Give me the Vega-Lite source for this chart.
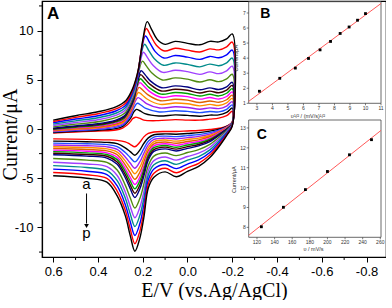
{
"$schema":"https://vega.github.io/schema/vega-lite/v6.json",
"padding":{"left":0,"top":1,"right":0,"bottom":0},
"background":"white",
"width":344,"height":256,
"view":{"stroke":"black","strokeWidth":1.2},
"config":{"axis":{"grid":false,"domainColor":"black","tickColor":"black","labelColor":"black","titleColor":"black","titleFontWeight":"normal","labelFont":"Liberation Sans","titleFont":"Liberation Serif"}},
"datasets":{"cv":[
{"c":"a","x":0.6,"y":-0.4},{"c":"a","x":0.5,"y":-0.3},{"c":"a","x":0.4,"y":-0.2},{"c":"a","x":0.32,"y":-0.1},{"c":"a","x":0.29,"y":0.1},{"c":"a","x":0.27,"y":0.4},{"c":"a","x":0.255,"y":0.75},{"c":"a","x":0.245,"y":1.05},{"c":"a","x":0.232,"y":1.2},{"c":"a","x":0.215,"y":1.1},{"c":"a","x":0.195,"y":0.9},{"c":"a","x":0.13,"y":0.85},{"c":"a","x":0.055,"y":0.95},{"c":"a","x":0,"y":0.9},{"c":"a","x":-0.055,"y":0.9},{"c":"a","x":-0.1,"y":1.0},{"c":"a","x":-0.14,"y":1.1},{"c":"a","x":-0.175,"y":1.35},{"c":"a","x":-0.2,"y":1.8},
{"c":"a","x":-0.2,"y":0.7},{"c":"a","x":-0.18,"y":0.35},{"c":"a","x":-0.15,"y":0.1},{"c":"a","x":-0.1,"y":-0.05},{"c":"a","x":-0.05,"y":-0.15},{"c":"a","x":0,"y":-0.2},{"c":"a","x":0.05,"y":-0.25},{"c":"a","x":0.1,"y":-0.25},{"c":"a","x":0.15,"y":-0.3},{"c":"a","x":0.175,"y":-0.45},{"c":"a","x":0.195,"y":-0.8},{"c":"a","x":0.213,"y":-1.35},{"c":"a","x":0.235,"y":-1.8},{"c":"a","x":0.256,"y":-1.55},{"c":"a","x":0.278,"y":-1.3},{"c":"a","x":0.314,"y":-1.15},{"c":"a","x":0.36,"y":-1.1},{"c":"a","x":0.45,"y":-1.05},{"c":"a","x":0.6,"y":-1.0},
{"c":"b","x":0.6,"y":-0.35},{"c":"b","x":0.5,"y":-0.23},{"c":"b","x":0.4,"y":-0.12},{"c":"b","x":0.32,"y":0.04},{"c":"b","x":0.289,"y":0.27},{"c":"b","x":0.268,"y":0.7},{"c":"b","x":0.252,"y":1.18},{"c":"b","x":0.241,"y":1.69},{"c":"b","x":0.228,"y":1.99},{"c":"b","x":0.211,"y":1.83},{"c":"b","x":0.19,"y":1.56},{"c":"b","x":0.128,"y":1.32},{"c":"b","x":0.055,"y":1.43},{"c":"b","x":0,"y":1.38},{"c":"b","x":-0.055,"y":1.3},{"c":"b","x":-0.1,"y":1.41},{"c":"b","x":-0.14,"y":1.43},{"c":"b","x":-0.175,"y":1.68},{"c":"b","x":-0.2,"y":2.13},
{"c":"b","x":-0.2,"y":0.68},{"c":"b","x":-0.18,"y":0.31},{"c":"b","x":-0.15,"y":0.03},{"c":"b","x":-0.1,"y":-0.22},{"c":"b","x":-0.05,"y":-0.37},{"c":"b","x":0,"y":-0.45},{"c":"b","x":0.05,"y":-0.53},{"c":"b","x":0.1,"y":-0.5},{"c":"b","x":0.15,"y":-0.58},{"c":"b","x":0.175,"y":-0.9},{"c":"b","x":0.195,"y":-1.46},{"c":"b","x":0.213,"y":-2.14},{"c":"b","x":0.235,"y":-2.66},{"c":"b","x":0.256,"y":-2.3},{"c":"b","x":0.278,"y":-1.91},{"c":"b","x":0.314,"y":-1.49},{"c":"b","x":0.36,"y":-1.36},{"c":"b","x":0.45,"y":-1.29},{"c":"b","x":0.6,"y":-1.23},
{"c":"c","x":0.6,"y":-0.29},{"c":"c","x":0.5,"y":-0.16},{"c":"c","x":0.4,"y":-0.04},{"c":"c","x":0.32,"y":0.17},{"c":"c","x":0.288,"y":0.42},{"c":"c","x":0.266,"y":0.94},{"c":"c","x":0.25,"y":1.51},{"c":"c","x":0.238,"y":2.2},{"c":"c","x":0.224,"y":2.61},{"c":"c","x":0.207,"y":2.41},{"c":"c","x":0.186,"y":2.09},{"c":"c","x":0.126,"y":1.73},{"c":"c","x":0.055,"y":1.86},{"c":"c","x":0,"y":1.79},{"c":"c","x":-0.055,"y":1.66},{"c":"c","x":-0.1,"y":1.78},{"c":"c","x":-0.14,"y":1.74},{"c":"c","x":-0.175,"y":2.0},{"c":"c","x":-0.2,"y":2.45},
{"c":"c","x":-0.2,"y":0.67},{"c":"c","x":-0.18,"y":0.28},{"c":"c","x":-0.15,"y":-0.03},{"c":"c","x":-0.1,"y":-0.37},{"c":"c","x":-0.05,"y":-0.57},{"c":"c","x":0,"y":-0.67},{"c":"c","x":0.05,"y":-0.77},{"c":"c","x":0.1,"y":-0.72},{"c":"c","x":0.15,"y":-0.82},{"c":"c","x":0.175,"y":-1.25},{"c":"c","x":0.195,"y":-1.99},{"c":"c","x":0.213,"y":-2.76},{"c":"c","x":0.235,"y":-3.34},{"c":"c","x":0.256,"y":-2.89},{"c":"c","x":0.278,"y":-2.39},{"c":"c","x":0.314,"y":-1.79},{"c":"c","x":0.36,"y":-1.59},{"c":"c","x":0.45,"y":-1.5},{"c":"c","x":0.6,"y":-1.43},
{"c":"d","x":0.6,"y":-0.24},{"c":"d","x":0.5,"y":-0.09},{"c":"d","x":0.4,"y":0.04},{"c":"d","x":0.32,"y":0.29},{"c":"d","x":0.287,"y":0.56},{"c":"d","x":0.265,"y":1.16},{"c":"d","x":0.248,"y":1.83},{"c":"d","x":0.236,"y":2.68},{"c":"d","x":0.221,"y":3.19},{"c":"d","x":0.204,"y":2.95},{"c":"d","x":0.183,"y":2.58},{"c":"d","x":0.124,"y":2.13},{"c":"d","x":0.055,"y":2.26},{"c":"d","x":0,"y":2.19},{"c":"d","x":-0.055,"y":2.01},{"c":"d","x":-0.1,"y":2.15},{"c":"d","x":-0.14,"y":2.07},{"c":"d","x":-0.175,"y":2.33},{"c":"d","x":-0.2,"y":2.78},
{"c":"d","x":-0.2,"y":0.65},{"c":"d","x":-0.18,"y":0.24},{"c":"d","x":-0.15,"y":-0.1},{"c":"d","x":-0.1,"y":-0.52},{"c":"d","x":-0.05,"y":-0.75},{"c":"d","x":0,"y":-0.88},{"c":"d","x":0.05,"y":-1.01},{"c":"d","x":0.1,"y":-0.93},{"c":"d","x":0.15,"y":-1.06},{"c":"d","x":0.175,"y":-1.59},{"c":"d","x":0.195,"y":-2.48},{"c":"d","x":0.213,"y":-3.35},{"c":"d","x":0.235,"y":-3.98},{"c":"d","x":0.256,"y":-3.45},{"c":"d","x":0.278,"y":-2.84},{"c":"d","x":0.314,"y":-2.08},{"c":"d","x":0.36,"y":-1.81},{"c":"d","x":0.45,"y":-1.7},{"c":"d","x":0.6,"y":-1.62},
{"c":"e","x":0.6,"y":-0.18},{"c":"e","x":0.5,"y":-0.02},{"c":"e","x":0.4,"y":0.13},{"c":"e","x":0.32,"y":0.4},{"c":"e","x":0.286,"y":0.7},{"c":"e","x":0.264,"y":1.36},{"c":"e","x":0.246,"y":2.11},{"c":"e","x":0.233,"y":3.11},{"c":"e","x":0.219,"y":3.71},{"c":"e","x":0.201,"y":3.43},{"c":"e","x":0.179,"y":3.02},{"c":"e","x":0.122,"y":2.5},{"c":"e","x":0.055,"y":2.64},{"c":"e","x":0,"y":2.56},{"c":"e","x":-0.055,"y":2.35},{"c":"e","x":-0.1,"y":2.5},{"c":"e","x":-0.14,"y":2.39},{"c":"e","x":-0.175,"y":2.65},{"c":"e","x":-0.2,"y":3.11},
{"c":"e","x":-0.2,"y":0.63},{"c":"e","x":-0.18,"y":0.21},{"c":"e","x":-0.15,"y":-0.17},{"c":"e","x":-0.1,"y":-0.66},{"c":"e","x":-0.05,"y":-0.93},{"c":"e","x":0,"y":-1.07},{"c":"e","x":0.05,"y":-1.23},{"c":"e","x":0.1,"y":-1.12},{"c":"e","x":0.15,"y":-1.28},{"c":"e","x":0.175,"y":-1.89},{"c":"e","x":0.195,"y":-2.92},{"c":"e","x":0.213,"y":-3.88},{"c":"e","x":0.235,"y":-4.55},{"c":"e","x":0.256,"y":-3.95},{"c":"e","x":0.278,"y":-3.24},{"c":"e","x":0.314,"y":-2.35},{"c":"e","x":0.36,"y":-2.02},{"c":"e","x":0.45,"y":-1.89},{"c":"e","x":0.6,"y":-1.8},
{"c":"f","x":0.6,"y":-0.13},{"c":"f","x":0.5,"y":0.04},{"c":"f","x":0.4,"y":0.21},{"c":"f","x":0.32,"y":0.51},{"c":"f","x":0.285,"y":0.83},{"c":"f","x":0.262,"y":1.55},{"c":"f","x":0.244,"y":2.39},{"c":"f","x":0.231,"y":3.53},{"c":"f","x":0.216,"y":4.23},{"c":"f","x":0.198,"y":3.91},{"c":"f","x":0.176,"y":3.46},{"c":"f","x":0.121,"y":2.87},{"c":"f","x":0.055,"y":3.02},{"c":"f","x":0,"y":2.93},{"c":"f","x":-0.055,"y":2.69},{"c":"f","x":-0.1,"y":2.85},{"c":"f","x":-0.14,"y":2.71},{"c":"f","x":-0.175,"y":2.97},{"c":"f","x":-0.2,"y":3.43},
{"c":"f","x":-0.2,"y":0.62},{"c":"f","x":-0.18,"y":0.17},{"c":"f","x":-0.15,"y":-0.23},{"c":"f","x":-0.1,"y":-0.79},{"c":"f","x":-0.05,"y":-1.1},{"c":"f","x":0,"y":-1.27},{"c":"f","x":0.05,"y":-1.45},{"c":"f","x":0.1,"y":-1.32},{"c":"f","x":0.15,"y":-1.5},{"c":"f","x":0.175,"y":-2.18},{"c":"f","x":0.195,"y":-3.36},{"c":"f","x":0.213,"y":-4.39},{"c":"f","x":0.235,"y":-5.11},{"c":"f","x":0.256,"y":-4.44},{"c":"f","x":0.278,"y":-3.64},{"c":"f","x":0.314,"y":-2.62},{"c":"f","x":0.36,"y":-2.22},{"c":"f","x":0.45,"y":-2.08},{"c":"f","x":0.6,"y":-1.98},
{"c":"g","x":0.6,"y":-0.08},{"c":"g","x":0.5,"y":0.11},{"c":"g","x":0.4,"y":0.29},{"c":"g","x":0.32,"y":0.62},{"c":"g","x":0.285,"y":0.96},{"c":"g","x":0.261,"y":1.74},{"c":"g","x":0.242,"y":2.65},{"c":"g","x":0.229,"y":3.93},{"c":"g","x":0.213,"y":4.71},{"c":"g","x":0.195,"y":4.36},{"c":"g","x":0.173,"y":3.87},{"c":"g","x":0.119,"y":3.22},{"c":"g","x":0.055,"y":3.38},{"c":"g","x":0,"y":3.29},{"c":"g","x":-0.055,"y":3.03},{"c":"g","x":-0.1,"y":3.2},{"c":"g","x":-0.14,"y":3.04},{"c":"g","x":-0.175,"y":3.3},{"c":"g","x":-0.2,"y":3.76},
{"c":"g","x":-0.2,"y":0.6},{"c":"g","x":-0.18,"y":0.14},{"c":"g","x":-0.15,"y":-0.3},{"c":"g","x":-0.1,"y":-0.92},{"c":"g","x":-0.05,"y":-1.27},{"c":"g","x":0,"y":-1.45},{"c":"g","x":0.05,"y":-1.66},{"c":"g","x":0.1,"y":-1.5},{"c":"g","x":0.15,"y":-1.71},{"c":"g","x":0.175,"y":-2.46},{"c":"g","x":0.195,"y":-3.77},{"c":"g","x":0.213,"y":-4.88},{"c":"g","x":0.235,"y":-5.64},{"c":"g","x":0.256,"y":-4.9},{"c":"g","x":0.278,"y":-4.02},{"c":"g","x":0.314,"y":-2.88},{"c":"g","x":0.36,"y":-2.42},{"c":"g","x":0.45,"y":-2.26},{"c":"g","x":0.6,"y":-2.15},
{"c":"h","x":0.6,"y":-0.02},{"c":"h","x":0.5,"y":0.18},{"c":"h","x":0.4,"y":0.37},{"c":"h","x":0.32,"y":0.72},{"c":"h","x":0.284,"y":1.07},{"c":"h","x":0.26,"y":1.89},{"c":"h","x":0.241,"y":2.86},{"c":"h","x":0.227,"y":4.25},{"c":"h","x":0.211,"y":5.1},{"c":"h","x":0.193,"y":4.72},{"c":"h","x":0.171,"y":4.2},{"c":"h","x":0.118,"y":3.54},{"c":"h","x":0.055,"y":3.71},{"c":"h","x":0,"y":3.61},{"c":"h","x":-0.055,"y":3.35},{"c":"h","x":-0.1,"y":3.53},{"c":"h","x":-0.14,"y":3.36},{"c":"h","x":-0.175,"y":3.63},{"c":"h","x":-0.2,"y":4.09},
{"c":"h","x":-0.2,"y":0.58},{"c":"h","x":-0.18,"y":0.1},{"c":"h","x":-0.15,"y":-0.37},{"c":"h","x":-0.1,"y":-1.04},{"c":"h","x":-0.05,"y":-1.42},{"c":"h","x":0,"y":-1.62},{"c":"h","x":0.05,"y":-1.85},{"c":"h","x":0.1,"y":-1.67},{"c":"h","x":0.15,"y":-1.9},{"c":"h","x":0.175,"y":-2.68},{"c":"h","x":0.195,"y":-4.1},{"c":"h","x":0.213,"y":-5.27},{"c":"h","x":0.235,"y":-6.07},{"c":"h","x":0.256,"y":-5.27},{"c":"h","x":0.278,"y":-4.32},{"c":"h","x":0.314,"y":-3.11},{"c":"h","x":0.36,"y":-2.59},{"c":"h","x":0.45,"y":-2.42},{"c":"h","x":0.6,"y":-2.3},
{"c":"i","x":0.6,"y":0.03},{"c":"i","x":0.5,"y":0.25},{"c":"i","x":0.4,"y":0.45},{"c":"i","x":0.32,"y":0.81},{"c":"i","x":0.283,"y":1.19},{"c":"i","x":0.259,"y":2.05},{"c":"i","x":0.239,"y":3.09},{"c":"i","x":0.225,"y":4.59},{"c":"i","x":0.209,"y":5.52},{"c":"i","x":0.191,"y":5.11},{"c":"i","x":0.168,"y":4.55},{"c":"i","x":0.117,"y":3.86},{"c":"i","x":0.055,"y":4.04},{"c":"i","x":0,"y":3.93},{"c":"i","x":-0.055,"y":3.66},{"c":"i","x":-0.1,"y":3.85},{"c":"i","x":-0.14,"y":3.68},{"c":"i","x":-0.175,"y":3.95},{"c":"i","x":-0.2,"y":4.42},
{"c":"i","x":-0.2,"y":0.57},{"c":"i","x":-0.18,"y":0.07},{"c":"i","x":-0.15,"y":-0.43},{"c":"i","x":-0.1,"y":-1.16},{"c":"i","x":-0.05,"y":-1.57},{"c":"i","x":0,"y":-1.79},{"c":"i","x":0.05,"y":-2.04},{"c":"i","x":0.1,"y":-1.84},{"c":"i","x":0.15,"y":-2.09},{"c":"i","x":0.175,"y":-2.92},{"c":"i","x":0.195,"y":-4.45},{"c":"i","x":0.213,"y":-5.69},{"c":"i","x":0.235,"y":-6.52},{"c":"i","x":0.256,"y":-5.67},{"c":"i","x":0.278,"y":-4.64},{"c":"i","x":0.314,"y":-3.35},{"c":"i","x":0.36,"y":-2.77},{"c":"i","x":0.45,"y":-2.59},{"c":"i","x":0.6,"y":-2.46},
{"c":"j","x":0.6,"y":0.09},{"c":"j","x":0.5,"y":0.32},{"c":"j","x":0.4,"y":0.53},{"c":"j","x":0.32,"y":0.91},{"c":"j","x":0.283,"y":1.31},{"c":"j","x":0.258,"y":2.2},{"c":"j","x":0.238,"y":3.3},{"c":"j","x":0.223,"y":4.91},{"c":"j","x":0.207,"y":5.91},{"c":"j","x":0.188,"y":5.47},{"c":"j","x":0.166,"y":4.89},{"c":"j","x":0.115,"y":4.19},{"c":"j","x":0.055,"y":4.38},{"c":"j","x":0,"y":4.26},{"c":"j","x":-0.055,"y":3.98},{"c":"j","x":-0.1,"y":4.18},{"c":"j","x":-0.14,"y":4.01},{"c":"j","x":-0.175,"y":4.28},{"c":"j","x":-0.2,"y":4.74},
{"c":"j","x":-0.2,"y":0.55},{"c":"j","x":-0.18,"y":0.03},{"c":"j","x":-0.15,"y":-0.5},{"c":"j","x":-0.1,"y":-1.28},{"c":"j","x":-0.05,"y":-1.72},{"c":"j","x":0,"y":-1.97},{"c":"j","x":0.05,"y":-2.23},{"c":"j","x":0.1,"y":-2.02},{"c":"j","x":0.15,"y":-2.28},{"c":"j","x":0.175,"y":-3.15},{"c":"j","x":0.195,"y":-4.79},{"c":"j","x":0.213,"y":-6.09},{"c":"j","x":0.235,"y":-6.96},{"c":"j","x":0.256,"y":-6.05},{"c":"j","x":0.278,"y":-4.95},{"c":"j","x":0.314,"y":-3.59},{"c":"j","x":0.36,"y":-2.95},{"c":"j","x":0.45,"y":-2.75},{"c":"j","x":0.6,"y":-2.62},
{"c":"k","x":0.6,"y":0.22},{"c":"k","x":0.5,"y":0.49},{"c":"k","x":0.4,"y":0.73},{"c":"k","x":0.32,"y":1.15},{"c":"k","x":0.281,"y":1.59},{"c":"k","x":0.255,"y":2.57},{"c":"k","x":0.234,"y":3.83},{"c":"k","x":0.219,"y":5.72},{"c":"k","x":0.201,"y":6.89},{"c":"k","x":0.183,"y":6.38},{"c":"k","x":0.16,"y":5.71},{"c":"k","x":0.112,"y":4.98},{"c":"k","x":0.055,"y":5.19},{"c":"k","x":0,"y":5.06},{"c":"k","x":-0.055,"y":4.77},{"c":"k","x":-0.1,"y":5.0},{"c":"k","x":-0.14,"y":4.81},{"c":"k","x":-0.175,"y":5.09},{"c":"k","x":-0.2,"y":5.56},
{"c":"k","x":-0.2,"y":0.51},{"c":"k","x":-0.18,"y":-0.06},{"c":"k","x":-0.15,"y":-0.67},{"c":"k","x":-0.1,"y":-1.57},{"c":"k","x":-0.05,"y":-2.1},{"c":"k","x":0,"y":-2.39},{"c":"k","x":0.05,"y":-2.7},{"c":"k","x":0.1,"y":-2.44},{"c":"k","x":0.15,"y":-2.75},{"c":"k","x":0.175,"y":-3.71},{"c":"k","x":0.195,"y":-5.61},{"c":"k","x":0.213,"y":-7.07},{"c":"k","x":0.235,"y":-8.03},{"c":"k","x":0.256,"y":-6.98},{"c":"k","x":0.278,"y":-5.7},{"c":"k","x":0.314,"y":-4.16},{"c":"k","x":0.36,"y":-3.39},{"c":"k","x":0.45,"y":-3.16},{"c":"k","x":0.6,"y":-3.0},
{"c":"l","x":0.6,"y":0.36},{"c":"l","x":0.5,"y":0.66},{"c":"l","x":0.4,"y":0.94},{"c":"l","x":0.32,"y":1.39},{"c":"l","x":0.28,"y":1.87},{"c":"l","x":0.253,"y":2.92},{"c":"l","x":0.231,"y":4.32},{"c":"l","x":0.214,"y":6.46},{"c":"l","x":0.197,"y":7.8},{"c":"l","x":0.178,"y":7.22},{"c":"l","x":0.154,"y":6.48},{"c":"l","x":0.11,"y":5.75},{"c":"l","x":0.055,"y":5.97},{"c":"l","x":0,"y":5.83},{"c":"l","x":-0.055,"y":5.55},{"c":"l","x":-0.1,"y":5.8},{"c":"l","x":-0.14,"y":5.62},{"c":"l","x":-0.175,"y":5.9},{"c":"l","x":-0.2,"y":6.38},
{"c":"l","x":-0.2,"y":0.47},{"c":"l","x":-0.18,"y":-0.15},{"c":"l","x":-0.15,"y":-0.83},{"c":"l","x":-0.1,"y":-1.85},{"c":"l","x":-0.05,"y":-2.46},{"c":"l","x":0,"y":-2.79},{"c":"l","x":0.05,"y":-3.16},{"c":"l","x":0.1,"y":-2.84},{"c":"l","x":0.15,"y":-3.21},{"c":"l","x":0.175,"y":-4.22},{"c":"l","x":0.195,"y":-6.38},{"c":"l","x":0.213,"y":-7.98},{"c":"l","x":0.235,"y":-9.01},{"c":"l","x":0.256,"y":-7.84},{"c":"l","x":0.278,"y":-6.4},{"c":"l","x":0.314,"y":-4.72},{"c":"l","x":0.36,"y":-3.82},{"c":"l","x":0.45,"y":-3.55},{"c":"l","x":0.6,"y":-3.37},
{"c":"m","x":0.6,"y":0.49},{"c":"m","x":0.5,"y":0.83},{"c":"m","x":0.4,"y":1.14},{"c":"m","x":0.32,"y":1.6},{"c":"m","x":0.279,"y":2.13},{"c":"m","x":0.251,"y":3.22},{"c":"m","x":0.228,"y":4.76},{"c":"m","x":0.211,"y":7.12},{"c":"m","x":0.192,"y":8.6},{"c":"m","x":0.173,"y":7.97},{"c":"m","x":0.149,"y":7.16},{"c":"m","x":0.107,"y":6.47},{"c":"m","x":0.055,"y":6.71},{"c":"m","x":0,"y":6.56},{"c":"m","x":-0.055,"y":6.31},{"c":"m","x":-0.1,"y":6.59},{"c":"m","x":-0.14,"y":6.43},{"c":"m","x":-0.175,"y":6.72},{"c":"m","x":-0.2,"y":7.2},
{"c":"m","x":-0.2,"y":0.43},{"c":"m","x":-0.18,"y":-0.23},{"c":"m","x":-0.15,"y":-1.0},{"c":"m","x":-0.1,"y":-2.12},{"c":"m","x":-0.05,"y":-2.8},{"c":"m","x":0,"y":-3.17},{"c":"m","x":0.05,"y":-3.59},{"c":"m","x":0.1,"y":-3.22},{"c":"m","x":0.15,"y":-3.64},{"c":"m","x":0.175,"y":-4.68},{"c":"m","x":0.195,"y":-7.06},{"c":"m","x":0.213,"y":-8.79},{"c":"m","x":0.235,"y":-9.9},{"c":"m","x":0.256,"y":-8.61},{"c":"m","x":0.278,"y":-7.02},{"c":"m","x":0.314,"y":-5.25},{"c":"m","x":0.36,"y":-4.22},{"c":"m","x":0.45,"y":-3.91},{"c":"m","x":0.6,"y":-3.72},
{"c":"n","x":0.6,"y":0.63},{"c":"n","x":0.5,"y":1.01},{"c":"n","x":0.4,"y":1.34},{"c":"n","x":0.32,"y":1.83},{"c":"n","x":0.277,"y":2.4},{"c":"n","x":0.249,"y":3.54},{"c":"n","x":0.225,"y":5.21},{"c":"n","x":0.207,"y":7.8},{"c":"n","x":0.188,"y":9.44},{"c":"n","x":0.168,"y":8.74},{"c":"n","x":0.144,"y":7.86},{"c":"n","x":0.105,"y":7.21},{"c":"n","x":0.055,"y":7.47},{"c":"n","x":0,"y":7.3},{"c":"n","x":-0.055,"y":7.07},{"c":"n","x":-0.1,"y":7.37},{"c":"n","x":-0.14,"y":7.24},{"c":"n","x":-0.175,"y":7.53},{"c":"n","x":-0.2,"y":8.02},
{"c":"n","x":-0.2,"y":0.38},{"c":"n","x":-0.18,"y":-0.32},{"c":"n","x":-0.15,"y":-1.17},{"c":"n","x":-0.1,"y":-2.39},{"c":"n","x":-0.05,"y":-3.14},{"c":"n","x":0,"y":-3.56},{"c":"n","x":0.05,"y":-4.02},{"c":"n","x":0.1,"y":-3.61},{"c":"n","x":0.15,"y":-4.07},{"c":"n","x":0.175,"y":-5.16},{"c":"n","x":0.195,"y":-7.76},{"c":"n","x":0.213,"y":-9.63},{"c":"n","x":0.235,"y":-10.81},{"c":"n","x":0.256,"y":-9.4},{"c":"n","x":0.278,"y":-7.67},{"c":"n","x":0.314,"y":-5.78},{"c":"n","x":0.36,"y":-4.63},{"c":"n","x":0.45,"y":-4.29},{"c":"n","x":0.6,"y":-4.08},
{"c":"o","x":0.6,"y":0.76},{"c":"o","x":0.5,"y":1.18},{"c":"o","x":0.4,"y":1.55},{"c":"o","x":0.32,"y":2.04},{"c":"o","x":0.276,"y":2.65},{"c":"o","x":0.247,"y":3.83},{"c":"o","x":0.223,"y":5.62},{"c":"o","x":0.203,"y":8.43},{"c":"o","x":0.184,"y":10.2},{"c":"o","x":0.164,"y":9.45},{"c":"o","x":0.139,"y":8.51},{"c":"o","x":0.102,"y":7.92},{"c":"o","x":0.055,"y":8.2},{"c":"o","x":0,"y":8.01},{"c":"o","x":-0.055,"y":7.82},{"c":"o","x":-0.1,"y":8.14},{"c":"o","x":-0.14,"y":8.04},{"c":"o","x":-0.175,"y":8.34},{"c":"o","x":-0.2,"y":8.83},
{"c":"o","x":-0.2,"y":0.34},{"c":"o","x":-0.18,"y":-0.41},{"c":"o","x":-0.15,"y":-1.33},{"c":"o","x":-0.1,"y":-2.65},{"c":"o","x":-0.05,"y":-3.48},{"c":"o","x":0,"y":-3.94},{"c":"o","x":0.05,"y":-4.45},{"c":"o","x":0.1,"y":-3.99},{"c":"o","x":0.15,"y":-4.5},{"c":"o","x":0.175,"y":-5.6},{"c":"o","x":0.195,"y":-8.41},{"c":"o","x":0.213,"y":-10.4},{"c":"o","x":0.235,"y":-11.65},{"c":"o","x":0.256,"y":-10.13},{"c":"o","x":0.278,"y":-8.26},{"c":"o","x":0.314,"y":-6.3},{"c":"o","x":0.36,"y":-5.02},{"c":"o","x":0.45,"y":-4.65},{"c":"o","x":0.6,"y":-4.42},
{"c":"p","x":0.6,"y":0.9},{"c":"p","x":0.5,"y":1.35},{"c":"p","x":0.4,"y":1.75},{"c":"p","x":0.32,"y":2.25},{"c":"p","x":0.275,"y":2.9},{"c":"p","x":0.245,"y":4.1},{"c":"p","x":0.22,"y":6.0},{"c":"p","x":0.2,"y":9.0},{"c":"p","x":0.18,"y":10.9},{"c":"p","x":0.16,"y":10.1},{"c":"p","x":0.135,"y":9.1},{"c":"p","x":0.1,"y":8.6},{"c":"p","x":0.055,"y":8.9},{"c":"p","x":0,"y":8.7},{"c":"p","x":-0.055,"y":8.55},{"c":"p","x":-0.1,"y":8.9},{"c":"p","x":-0.14,"y":8.85},{"c":"p","x":-0.175,"y":9.15},{"c":"p","x":-0.2,"y":9.65},
{"c":"p","x":-0.2,"y":0.3},{"c":"p","x":-0.18,"y":-0.5},{"c":"p","x":-0.15,"y":-1.5},{"c":"p","x":-0.1,"y":-2.9},{"c":"p","x":-0.05,"y":-3.8},{"c":"p","x":0,"y":-4.3},{"c":"p","x":0.05,"y":-4.85},{"c":"p","x":0.1,"y":-4.35},{"c":"p","x":0.15,"y":-4.9},{"c":"p","x":0.175,"y":-6.0},{"c":"p","x":0.195,"y":-9.0},{"c":"p","x":0.213,"y":-11.1},{"c":"p","x":0.235,"y":-12.41},{"c":"p","x":0.256,"y":-10.8},{"c":"p","x":0.278,"y":-8.8},{"c":"p","x":0.314,"y":-6.8},{"c":"p","x":0.36,"y":-5.4},{"c":"p","x":0.45,"y":-5.0},{"c":"p","x":0.6,"y":-4.75}
],
"ib":[{"x":3.162,"y":1.8},{"x":4.472,"y":2.66},{"x":5.477,"y":3.34},{"x":6.325,"y":3.98},{"x":7.071,"y":4.55},{"x":7.746,"y":5.11},{"x":8.367,"y":5.64},{"x":8.944,"y":6.07},{"x":9.487,"y":6.52},{"x":10.0,"y":6.96}],
"ic":[{"x":125,"y":8.03},{"x":150,"y":9.01},{"x":175,"y":9.9},{"x":200,"y":10.81},{"x":225,"y":11.65},{"x":250,"y":12.41}],
"mx":[{"v":0.5},{"v":0.3},{"v":0.1},{"v":-0.1},{"v":-0.3},{"v":-0.5},{"v":-0.7}],
"my":[{"v":-12.5},{"v":-7.5},{"v":-2.5},{"v":2.5},{"v":7.5},{"v":12.5}],
"bx":[{"v":3},{"v":4},{"v":5},{"v":6},{"v":7},{"v":8},{"v":9},{"v":10},{"v":11}],
"by":[{"v":1},{"v":2},{"v":3},{"v":4},{"v":5},{"v":6},{"v":7}],
"cx":[{"v":120},{"v":140},{"v":160},{"v":180},{"v":200},{"v":220},{"v":240},{"v":260}],
"cy":[{"v":8},{"v":9},{"v":10},{"v":11},{"v":12},{"v":13}]
},
"resolve":{"scale":{"x":"independent","y":"independent"},"axis":{"x":"independent","y":"independent"}},
"layer":[
{
"resolve":{"axis":{"x":"independent","y":"independent"}},
"layer":[
{"data":{"name":"cv"},
"mark":{"type":"line","strokeWidth":1.4,"interpolate":"catmull-rom","clip":true},
"encoding":{
"x":{"field":"x","type":"quantitative","scale":{"domain":[0.65,-0.887],"nice":false,"zero":false},
"axis":{"orient":"bottom","values":[0.6,0.4,0.2,0,-0.2,-0.4,-0.6,-0.8],"labelExpr":"replace(format(datum.value,'.1f'),'−','-')","title":"E/V (vs.Ag/AgCl)","titleFontSize":20,"labelFontSize":13,"tickSize":5,"labelPadding":3,"titlePadding":2,"domainWidth":1.2}},
"y":{"field":"y","type":"quantitative","scale":{"domain":[-13,13],"nice":false,"zero":false},
"axis":{"orient":"left","values":[-10,-5,0,5,10],"labelExpr":"replace(format(datum.value,'d'),'−','-')","title":"Current/μA","titleFontSize":20,"labelFontSize":13,"tickSize":5,"labelPadding":4,"titleX":-22,"titleY":133,"domainWidth":1.2}},
"color":{"field":"c","type":"nominal","legend":null,"scale":{"domain":["a","b","c","d","e","f","g","h","i","j","k","l","m","n","o","p"],"range":["#FF0000","#000000","#1E50FF","#A020F0","#FF8C00","#E06000","#FF00FF","#00A000","#400000","#000080","#4F8A10","#A040FF","#008B8B","#0000FF","#FF0000","#000000"]}},
"order":{"value":null}}},
{"data":{"name":"mx"},"mark":{"type":"rule","color":"black","strokeWidth":1},
"encoding":{"x":{"field":"v","type":"quantitative","scale":{"domain":[0.65,-0.887],"nice":false,"zero":false},"axis":null},
"y":{"datum":-13,"type":"quantitative","scale":{"domain":[-13,13],"nice":false,"zero":false},"axis":null},"y2":{"datum":-13.3}}},
{"data":{"name":"my"},"mark":{"type":"rule","color":"black","strokeWidth":1},
"encoding":{"y":{"field":"v","type":"quantitative","scale":{"domain":[-13,13],"nice":false,"zero":false},"axis":null},
"x":{"datum":0.65,"type":"quantitative","scale":{"domain":[0.65,-0.887],"nice":false,"zero":false},"axis":null},"x2":{"datum":0.6634}}},
{"data":{"values":[{}]},"mark":{"type":"text","text":"A","font":"Liberation Sans","fontWeight":"bold","fontSize":17,"color":"black"},
"encoding":{"x":{"datum":0.6,"type":"quantitative","axis":null},"y":{"datum":11.7,"type":"quantitative","axis":null}}},
{"data":{"values":[{}]},"mark":{"type":"text","text":"a","font":"Liberation Sans","fontSize":15,"color":"black"},
"encoding":{"x":{"datum":0.451,"type":"quantitative","axis":null},"y":{"datum":-5.6,"type":"quantitative","axis":null}}},
{"data":{"values":[{}]},"mark":{"type":"text","text":"p","font":"Liberation Sans","fontSize":15,"color":"black"},
"encoding":{"x":{"datum":0.451,"type":"quantitative","axis":null},"y":{"datum":-10.6,"type":"quantitative","axis":null}}},
{"data":{"values":[{}]},"mark":{"type":"rule","color":"black","strokeWidth":1},
"encoding":{"x":{"datum":0.451,"type":"quantitative","axis":null},"y":{"datum":-6.55,"type":"quantitative","axis":null},"y2":{"datum":-9.6}}},
{"data":{"values":[{}]},"mark":{"type":"point","shape":"triangle-down","filled":true,"color":"black","size":22,"opacity":1},
"encoding":{"x":{"datum":0.451,"type":"quantitative","axis":null},"y":{"datum":-9.85,"type":"quantitative","axis":null}}}
]
},
{
"layer":[
{"data":{"values":[{}]},"mark":{"type":"rect","fill":"white","stroke":"#444","strokeWidth":0.8},
"encoding":{
"x":{"datum":2.47,"type":"quantitative","scale":{"domain":[2.47,11],"range":[206.7,339],"nice":false,"zero":false},"axis":null},
"x2":{"datum":11},
"y":{"datum":1,"type":"quantitative","scale":{"domain":[1,7.75],"range":[102.3,0.7],"nice":false,"zero":false},"axis":null},
"y2":{"datum":7.75}}},
{"data":{"name":"ib"},"transform":[{"regression":"y","on":"x","extent":[2.47,11]}],"mark":{"type":"line","color":"#FF5A5A","strokeWidth":1},
"encoding":{"x":{"field":"x","type":"quantitative","scale":{"domain":[2.47,11],"range":[206.7,339],"nice":false,"zero":false},"axis":null},
"y":{"field":"y","type":"quantitative","scale":{"domain":[1,7.75],"range":[102.3,0.7],"nice":false,"zero":false},"axis":null}}},
{"data":{"name":"ib"},"mark":{"type":"square","color":"black","size":8,"opacity":1,"filled":true},
"encoding":{"x":{"field":"x","type":"quantitative","scale":{"domain":[2.47,11],"range":[206.7,339],"nice":false,"zero":false},"axis":null},
"y":{"field":"y","type":"quantitative","scale":{"domain":[1,7.75],"range":[102.3,0.7],"nice":false,"zero":false},"axis":null}}},
{"data":{"name":"bx"},"mark":{"type":"rule","color":"#444","strokeWidth":0.7},
"encoding":{"x":{"field":"v","type":"quantitative","scale":{"domain":[2.47,11],"range":[206.7,339],"nice":false,"zero":false},"axis":null},
"y":{"datum":1,"type":"quantitative","scale":{"domain":[1,7.75],"range":[102.3,0.7],"nice":false,"zero":false},"axis":null},"y2":{"datum":0.867}}},
{"data":{"name":"bx"},"mark":{"type":"text","font":"Liberation Sans","fontSize":5,"color":"#333","baseline":"top","dy":3},
"encoding":{"x":{"field":"v","type":"quantitative","scale":{"domain":[2.47,11],"range":[206.7,339],"nice":false,"zero":false},"axis":null},
"y":{"datum":1,"type":"quantitative","scale":{"domain":[1,7.75],"range":[102.3,0.7],"nice":false,"zero":false},"axis":null},"text":{"field":"v","type":"quantitative"}}},
{"data":{"name":"by"},"mark":{"type":"rule","color":"#444","strokeWidth":0.7},
"encoding":{"y":{"field":"v","type":"quantitative","scale":{"domain":[1,7.75],"range":[102.3,0.7],"nice":false,"zero":false},"axis":null},
"x":{"datum":2.47,"type":"quantitative","scale":{"domain":[2.47,11],"range":[206.7,339],"nice":false,"zero":false},"axis":null},"x2":{"datum":2.34}}},
{"data":{"name":"by"},"mark":{"type":"text","font":"Liberation Sans","fontSize":5,"color":"#333","align":"right","baseline":"middle","dx":-3},
"encoding":{"y":{"field":"v","type":"quantitative","scale":{"domain":[1,7.75],"range":[102.3,0.7],"nice":false,"zero":false},"axis":null},
"x":{"datum":2.47,"type":"quantitative","scale":{"domain":[2.47,11],"range":[206.7,339],"nice":false,"zero":false},"axis":null},"text":{"field":"v","type":"quantitative"}}},
{"data":{"values":[{}]},"mark":{"type":"text","text":"υ¹/² / (mV/s)¹/²","font":"Liberation Sans","fontSize":5.5,"color":"#333","baseline":"middle"},
"encoding":{"x":{"datum":6.29,"type":"quantitative","scale":{"domain":[2.47,11],"range":[206.7,339],"nice":false,"zero":false},"axis":null},
"y":{"datum":0.16,"type":"quantitative","scale":{"domain":[1,7.75],"range":[102.3,0.7],"nice":false,"zero":false},"axis":null}}},
{"data":{"values":[{}]},"mark":{"type":"text","text":"Current/μA","font":"Liberation Sans","fontSize":5.5,"color":"#333","baseline":"middle","angle":270},
"encoding":{"x":{"datum":1.65,"type":"quantitative","scale":{"domain":[2.47,11],"range":[206.7,339],"nice":false,"zero":false},"axis":null},
"y":{"datum":4.0,"type":"quantitative","scale":{"domain":[1,7.75],"range":[102.3,0.7],"nice":false,"zero":false},"axis":null}}},
{"data":{"values":[{}]},"mark":{"type":"text","text":"B","font":"Liberation Sans","fontWeight":"bold","fontSize":14,"color":"black"},
"encoding":{"x":{"datum":3.54,"type":"quantitative","scale":{"domain":[2.47,11],"range":[206.7,339],"nice":false,"zero":false},"axis":null},
"y":{"datum":6.9,"type":"quantitative","scale":{"domain":[1,7.75],"range":[102.3,0.7],"nice":false,"zero":false},"axis":null}}}
]
},
{
"layer":[
{"data":{"values":[{}]},"mark":{"type":"rect","fill":"white","stroke":"#444","strokeWidth":0.8},
"encoding":{
"x":{"datum":110.6,"type":"quantitative","scale":{"domain":[110.6,260.8],"range":[206.7,339],"nice":false,"zero":false},"axis":null},
"x2":{"datum":260.8},
"y":{"datum":7.5,"type":"quantitative","scale":{"domain":[7.5,13.4],"range":[236.3,119],"nice":false,"zero":false},"axis":null},
"y2":{"datum":13.4}}},
{"data":{"name":"ic"},"transform":[{"regression":"y","on":"x","extent":[110.6,260.8]}],"mark":{"type":"line","color":"#FF5A5A","strokeWidth":1},
"encoding":{"x":{"field":"x","type":"quantitative","scale":{"domain":[110.6,260.8],"range":[206.7,339],"nice":false,"zero":false},"axis":null},
"y":{"field":"y","type":"quantitative","scale":{"domain":[7.5,13.4],"range":[236.3,119],"nice":false,"zero":false},"axis":null}}},
{"data":{"name":"ic"},"mark":{"type":"square","color":"black","size":8,"opacity":1,"filled":true},
"encoding":{"x":{"field":"x","type":"quantitative","scale":{"domain":[110.6,260.8],"range":[206.7,339],"nice":false,"zero":false},"axis":null},
"y":{"field":"y","type":"quantitative","scale":{"domain":[7.5,13.4],"range":[236.3,119],"nice":false,"zero":false},"axis":null}}},
{"data":{"name":"cx"},"mark":{"type":"rule","color":"#444","strokeWidth":0.7},
"encoding":{"x":{"field":"v","type":"quantitative","scale":{"domain":[110.6,260.8],"range":[206.7,339],"nice":false,"zero":false},"axis":null},
"y":{"datum":7.5,"type":"quantitative","scale":{"domain":[7.5,13.4],"range":[236.3,119],"nice":false,"zero":false},"axis":null},"y2":{"datum":7.4}}},
{"data":{"name":"cx"},"mark":{"type":"text","font":"Liberation Sans","fontSize":5,"color":"#333","baseline":"top","dy":3},
"encoding":{"x":{"field":"v","type":"quantitative","scale":{"domain":[110.6,260.8],"range":[206.7,339],"nice":false,"zero":false},"axis":null},
"y":{"datum":7.5,"type":"quantitative","scale":{"domain":[7.5,13.4],"range":[236.3,119],"nice":false,"zero":false},"axis":null},"text":{"field":"v","type":"quantitative"}}},
{"data":{"name":"cy"},"mark":{"type":"rule","color":"#444","strokeWidth":0.7},
"encoding":{"y":{"field":"v","type":"quantitative","scale":{"domain":[7.5,13.4],"range":[236.3,119],"nice":false,"zero":false},"axis":null},
"x":{"datum":110.6,"type":"quantitative","scale":{"domain":[110.6,260.8],"range":[206.7,339],"nice":false,"zero":false},"axis":null},"x2":{"datum":108.3}}},
{"data":{"name":"cy"},"mark":{"type":"text","font":"Liberation Sans","fontSize":5,"color":"#333","align":"right","baseline":"middle","dx":-3},
"encoding":{"y":{"field":"v","type":"quantitative","scale":{"domain":[7.5,13.4],"range":[236.3,119],"nice":false,"zero":false},"axis":null},
"x":{"datum":110.6,"type":"quantitative","scale":{"domain":[110.6,260.8],"range":[206.7,339],"nice":false,"zero":false},"axis":null},"text":{"field":"v","type":"quantitative"}}},
{"data":{"values":[{}]},"mark":{"type":"text","text":"υ / mV/s","font":"Liberation Sans","fontSize":5.5,"color":"#333","baseline":"middle"},
"encoding":{"x":{"datum":184.2,"type":"quantitative","scale":{"domain":[110.6,260.8],"range":[206.7,339],"nice":false,"zero":false},"axis":null},
"y":{"datum":6.91,"type":"quantitative","scale":{"domain":[7.5,13.4],"range":[236.3,119],"nice":false,"zero":false},"axis":null}}},
{"data":{"values":[{}]},"mark":{"type":"text","text":"Current/μA","font":"Liberation Sans","fontSize":5.5,"color":"#333","baseline":"middle","angle":270},
"encoding":{"x":{"datum":93.4,"type":"quantitative","scale":{"domain":[110.6,260.8],"range":[206.7,339],"nice":false,"zero":false},"axis":null},
"y":{"datum":10.4,"type":"quantitative","scale":{"domain":[7.5,13.4],"range":[236.3,119],"nice":false,"zero":false},"axis":null}}},
{"data":{"values":[{}]},"mark":{"type":"text","text":"C","font":"Liberation Sans","fontWeight":"bold","fontSize":14,"color":"black"},
"encoding":{"x":{"datum":125.6,"type":"quantitative","scale":{"domain":[110.6,260.8],"range":[206.7,339],"nice":false,"zero":false},"axis":null},
"y":{"datum":12.64,"type":"quantitative","scale":{"domain":[7.5,13.4],"range":[236.3,119],"nice":false,"zero":false},"axis":null}}}
]
}
]
}
